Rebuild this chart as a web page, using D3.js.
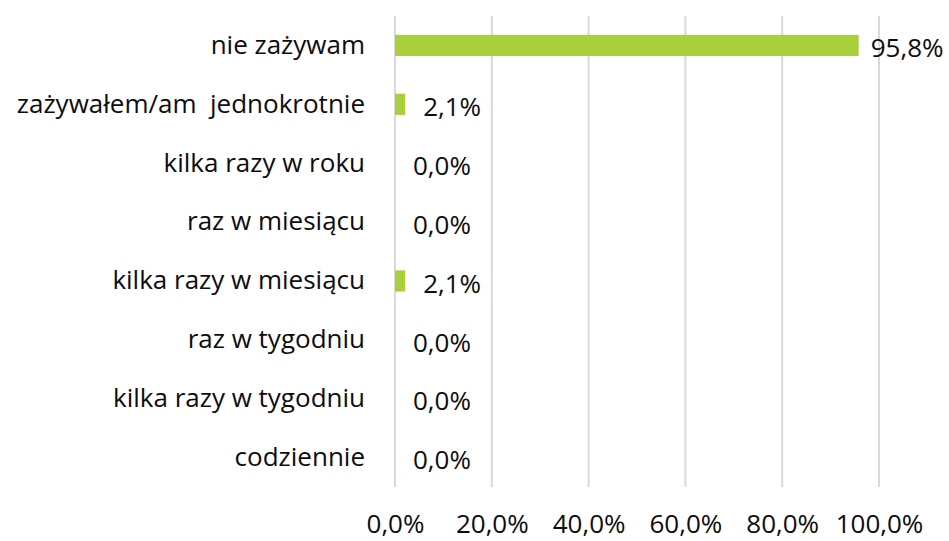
<!DOCTYPE html>
<html>
<head>
<meta charset="utf-8">
<script src="https://cdn.jsdelivr.net/npm/d3@7"></script>
<style>
  body { margin: 0; background: #fff; }
  text { font-family: "Open Sans", "Noto Sans", sans-serif; fill: #0d0d0d; }
</style>
</head>
<body>
<div id="chart"></div>
<script>
// categories (top to bottom) and their shares in percent
const categories = [
  "nie zażywam",
  "zażywałem/am  jednokrotnie",
  "kilka razy w roku",
  "raz w miesiącu",
  "kilka razy w miesiącu",
  "raz w tygodniu",
  "kilka razy w tygodniu",
  "codziennie"
];
const values = [95.8, 2.1, 0.0, 0.0, 2.1, 0.0, 0.0, 0.0];
const ticks = [0, 20, 40, 60, 80, 100];

const W = 949, H = 541;
const margin = { top: 16, right: 70, bottom: 54, left: 395 };
const width = 879 - margin.left;
const height = 487 - margin.top;
const fontSize = "26px";

const fmt = v => v.toFixed(1).replace(".", ",") + "%";

const svg = d3.select("#chart").append("svg")
  .attr("width", W).attr("height", H);
const g = svg.append("g").attr("transform", `translate(${margin.left},${margin.top})`);

const x = d3.scaleLinear().domain([0, 100]).range([0, width]);
const y = d3.scaleBand().domain(categories).range([0, height]).paddingInner(0.64).paddingOuter(0.32);

// gridlines
g.selectAll("line.grid").data(ticks).join("line")
  .attr("class", "grid")
  .attr("x1", d => x(d)).attr("x2", d => x(d))
  .attr("y1", 0).attr("y2", height)
  .attr("stroke", "#d9d9d9").attr("stroke-width", 2);

// x axis tick labels
const xAxis = d3.axisBottom(x).tickValues(ticks).tickSize(0).tickPadding(0)
  .tickFormat(d => fmt(d));
const xg = g.append("g").attr("transform", `translate(0,${height})`).call(xAxis);
xg.select(".domain").remove();
xg.selectAll("text")
  .attr("y", 46)
  .attr("dy", 0)
  .style("font-size", fontSize)
  .style("font-family", "\"Open Sans\", \"Noto Sans\", sans-serif")
  .attr("fill", "#0d0d0d");

// y axis category labels
const yAxis = d3.axisLeft(y).tickSize(0).tickPadding(30);
const yg = g.append("g").call(yAxis);
yg.select(".domain").remove();
yg.selectAll("text")
  .attr("xml:space", "preserve")
  .style("white-space", "pre")
  .style("font-size", fontSize)
  .style("font-family", "\"Open Sans\", \"Noto Sans\", sans-serif")
  .attr("fill", "#0d0d0d");

// bars
g.selectAll("rect.bar").data(categories).join("rect")
  .attr("class", "bar")
  .attr("x", x(0))
  .attr("y", d => y(d))
  .attr("height", y.bandwidth())
  .attr("width", (d, i) => x(values[i]) - x(0))
  .attr("fill", "#a9d03b");

// value labels
g.selectAll("text.val").data(categories).join("text")
  .attr("class", "val")
  .attr("x", (d, i) => x(values[i]) + (values[i] > 50 ? 12 : 18))
  .attr("y", d => y(d) + y.bandwidth() / 2)
  .attr("dy", "0.45em")
  .style("font-size", fontSize)
  .text((d, i) => fmt(values[i]));
</script>
</body>
</html>
